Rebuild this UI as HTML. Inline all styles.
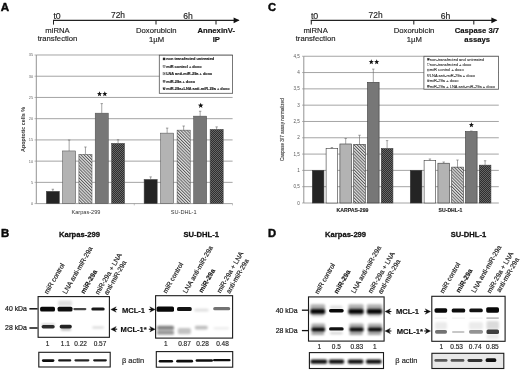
<!DOCTYPE html><html><head><meta charset="utf-8"><style>html,body{margin:0;padding:0;background:#fff;overflow:hidden}svg{display:block;filter:grayscale(1)}</style></head><body>
<svg width="520" height="372" viewBox="0 0 520 372" font-family="'Liberation Sans', sans-serif">

<defs>
 <pattern id="hatch" patternUnits="userSpaceOnUse" width="2.2" height="2.2" patternTransform="rotate(-45)">
   <rect width="2.2" height="2.2" fill="#e2e2e2"/>
   <rect width="0.95" height="2.2" fill="#5a5a5a"/>
 </pattern>
 <pattern id="check" patternUnits="userSpaceOnUse" width="2" height="2">
   <rect width="2" height="2" fill="#2e2e2e"/>
   <rect width="1" height="1" fill="#666"/>
   <rect x="1" y="1" width="1" height="1" fill="#666"/>
 </pattern>
 <filter id="b1" x="-50%" y="-100%" width="200%" height="300%"><feGaussianBlur stdDeviation="0.8"/></filter>
 <filter id="b2" x="-50%" y="-100%" width="200%" height="300%"><feGaussianBlur stdDeviation="1.3"/></filter>
 <filter id="b05" x="-50%" y="-100%" width="200%" height="300%"><feGaussianBlur stdDeviation="0.5"/></filter>
</defs>

<rect width="520" height="372" fill="#fff"/>
<text x="0.75" y="10.8" font-size="11.6" font-weight="bold" text-anchor="start" fill="#0a0a0a" stroke="#0a0a0a" stroke-width="0.45" >A</text>
<line x1="53.0" y1="20.3" x2="238.6" y2="20.3" stroke="#222" stroke-width="1.15"/>
<polygon points="233.6,17.4 239.6,20.3 233.6,23.2" fill="#111"/>
<line x1="53.5" y1="20.3" x2="53.5" y2="24.6" stroke="#222" stroke-width="1.05"/>
<line x1="156" y1="20.3" x2="156" y2="24.6" stroke="#222" stroke-width="1.05"/>
<line x1="216" y1="20.3" x2="216" y2="24.6" stroke="#222" stroke-width="1.05"/>
<text x="57.1" y="18.9" font-size="8.8" text-anchor="middle" fill="#222" stroke="#222" stroke-width="0.15" >t0</text>
<text x="118" y="18.3" font-size="8.4" text-anchor="middle" fill="#222" stroke="#222" stroke-width="0.15" >72h</text>
<text x="188.1" y="18.8" font-size="8.6" text-anchor="middle" fill="#222" stroke="#222" stroke-width="0.15" >6h</text>
<text x="57.5" y="32.6" font-size="7.7" text-anchor="middle" fill="#222" stroke="#222" stroke-width="0.15" >miRNA</text>
<text x="57.5" y="41.3" font-size="7.7" text-anchor="middle" fill="#222" stroke="#222" stroke-width="0.15" >transfection</text>
<text x="156.3" y="33.2" font-size="7.7" text-anchor="middle" fill="#222" stroke="#222" stroke-width="0.15" >Doxorubicin</text>
<text x="156.5" y="42.2" font-size="7.7" text-anchor="middle" fill="#222" stroke="#222" stroke-width="0.15" >1µM</text>
<text x="216.2" y="33.2" font-size="7.7" font-weight="bold" text-anchor="middle" fill="#111" stroke="#111" stroke-width="0.15" >AnnexinV-</text>
<text x="216.3" y="42.2" font-size="7.7" font-weight="bold" text-anchor="middle" fill="#111" stroke="#111" stroke-width="0.15" >IP</text>
<line x1="36.3" y1="203.60" x2="232.6" y2="203.60" stroke="#9a9a9a" stroke-width="0.9"/>
<line x1="34.5" y1="203.60" x2="36.3" y2="203.60" stroke="#888" stroke-width="0.6"/>
<text x="33.2" y="205.0" font-size="3.9" text-anchor="end" fill="#666" >0</text>
<line x1="36.3" y1="182.37" x2="232.6" y2="182.37" stroke="#9a9a9a" stroke-width="0.9"/>
<line x1="34.5" y1="182.37" x2="36.3" y2="182.37" stroke="#888" stroke-width="0.6"/>
<text x="33.2" y="183.77" font-size="3.9" text-anchor="end" fill="#666" >5</text>
<line x1="36.3" y1="161.14" x2="232.6" y2="161.14" stroke="#9a9a9a" stroke-width="0.9"/>
<line x1="34.5" y1="161.14" x2="36.3" y2="161.14" stroke="#888" stroke-width="0.6"/>
<text x="33.2" y="162.54" font-size="3.9" text-anchor="end" fill="#666" >10</text>
<line x1="36.3" y1="139.91" x2="232.6" y2="139.91" stroke="#9a9a9a" stroke-width="0.9"/>
<line x1="34.5" y1="139.91" x2="36.3" y2="139.91" stroke="#888" stroke-width="0.6"/>
<text x="33.2" y="141.31" font-size="3.9" text-anchor="end" fill="#666" >15</text>
<line x1="36.3" y1="118.68" x2="232.6" y2="118.68" stroke="#9a9a9a" stroke-width="0.9"/>
<line x1="34.5" y1="118.68" x2="36.3" y2="118.68" stroke="#888" stroke-width="0.6"/>
<text x="33.2" y="120.07999999999998" font-size="3.9" text-anchor="end" fill="#666" >20</text>
<line x1="36.3" y1="97.45" x2="232.6" y2="97.45" stroke="#9a9a9a" stroke-width="0.9"/>
<line x1="34.5" y1="97.45" x2="36.3" y2="97.45" stroke="#888" stroke-width="0.6"/>
<text x="33.2" y="98.85" font-size="3.9" text-anchor="end" fill="#666" >25</text>
<line x1="36.3" y1="76.22" x2="232.6" y2="76.22" stroke="#9a9a9a" stroke-width="0.9"/>
<line x1="34.5" y1="76.22" x2="36.3" y2="76.22" stroke="#888" stroke-width="0.6"/>
<text x="33.2" y="77.61999999999999" font-size="3.9" text-anchor="end" fill="#666" >30</text>
<line x1="36.3" y1="54.99" x2="232.6" y2="54.99" stroke="#9a9a9a" stroke-width="0.9"/>
<line x1="34.5" y1="54.99" x2="36.3" y2="54.99" stroke="#888" stroke-width="0.6"/>
<text x="33.2" y="56.38999999999998" font-size="3.9" text-anchor="end" fill="#666" >35</text>
<line x1="36.3" y1="55" x2="36.3" y2="203.6" stroke="#888" stroke-width="0.9"/>
<line x1="134.3" y1="203.6" x2="134.3" y2="205.4" stroke="#888" stroke-width="0.5"/>
<line x1="232.5" y1="203.6" x2="232.5" y2="205.4" stroke="#888" stroke-width="0.5"/>
<rect x="46.30" y="191.29" width="13.10" height="12.31" fill="#242424" stroke="#4a4a4a" stroke-width="0.5"/>
<line x1="52.85" y1="189.25" x2="52.85" y2="191.29" stroke="#666" stroke-width="0.6"/>
<line x1="51.65" y1="189.25" x2="54.05" y2="189.25" stroke="#666" stroke-width="0.6"/>
<rect x="62.60" y="150.95" width="13.10" height="52.65" fill="#b3b3b3" stroke="#4a4a4a" stroke-width="0.5"/>
<line x1="69.15" y1="140.00" x2="69.15" y2="150.95" stroke="#666" stroke-width="0.6"/>
<line x1="67.95" y1="140.00" x2="70.35" y2="140.00" stroke="#666" stroke-width="0.6"/>
<rect x="78.90" y="154.35" width="13.10" height="49.25" fill="url(#hatch)" stroke="#4a4a4a" stroke-width="0.5"/>
<line x1="85.45" y1="147.00" x2="85.45" y2="154.35" stroke="#666" stroke-width="0.6"/>
<line x1="84.25" y1="147.00" x2="86.65" y2="147.00" stroke="#666" stroke-width="0.6"/>
<rect x="95.20" y="113.16" width="13.10" height="90.44" fill="#777777" stroke="#4a4a4a" stroke-width="0.5"/>
<line x1="101.75" y1="103.60" x2="101.75" y2="113.16" stroke="#666" stroke-width="0.6"/>
<line x1="100.55" y1="103.60" x2="102.95" y2="103.60" stroke="#666" stroke-width="0.6"/>
<rect x="111.50" y="143.31" width="13.10" height="60.29" fill="url(#check)" stroke="#4a4a4a" stroke-width="0.5"/>
<line x1="118.05" y1="139.75" x2="118.05" y2="143.31" stroke="#666" stroke-width="0.6"/>
<line x1="116.85" y1="139.75" x2="119.25" y2="139.75" stroke="#666" stroke-width="0.6"/>
<rect x="144.10" y="179.40" width="13.10" height="24.20" fill="#242424" stroke="#4a4a4a" stroke-width="0.5"/>
<line x1="150.65" y1="176.90" x2="150.65" y2="179.40" stroke="#666" stroke-width="0.6"/>
<line x1="149.45" y1="176.90" x2="151.85" y2="176.90" stroke="#666" stroke-width="0.6"/>
<rect x="160.60" y="133.12" width="13.10" height="70.48" fill="#b3b3b3" stroke="#4a4a4a" stroke-width="0.5"/>
<line x1="167.15" y1="128.10" x2="167.15" y2="133.12" stroke="#666" stroke-width="0.6"/>
<line x1="165.95" y1="128.10" x2="168.35" y2="128.10" stroke="#666" stroke-width="0.6"/>
<rect x="177.10" y="130.14" width="13.10" height="73.46" fill="url(#hatch)" stroke="#4a4a4a" stroke-width="0.5"/>
<line x1="183.65" y1="126.00" x2="183.65" y2="130.14" stroke="#666" stroke-width="0.6"/>
<line x1="182.45" y1="126.00" x2="184.85" y2="126.00" stroke="#666" stroke-width="0.6"/>
<rect x="193.60" y="116.13" width="13.10" height="87.47" fill="#777777" stroke="#4a4a4a" stroke-width="0.5"/>
<line x1="200.15" y1="111.25" x2="200.15" y2="116.13" stroke="#666" stroke-width="0.6"/>
<line x1="198.95" y1="111.25" x2="201.35" y2="111.25" stroke="#666" stroke-width="0.6"/>
<rect x="210.10" y="129.29" width="13.10" height="74.31" fill="url(#check)" stroke="#4a4a4a" stroke-width="0.5"/>
<line x1="216.65" y1="126.90" x2="216.65" y2="129.29" stroke="#666" stroke-width="0.6"/>
<line x1="215.45" y1="126.90" x2="217.85" y2="126.90" stroke="#666" stroke-width="0.6"/>
<polygon points="99.50,91.25 100.18,93.07 102.12,93.15 100.60,94.36 101.12,96.22 99.50,95.16 97.88,96.22 98.40,94.36 96.88,93.15 98.82,93.07" fill="#111"/>
<polygon points="104.80,91.25 105.48,93.07 107.42,93.15 105.90,94.36 106.42,96.22 104.80,95.16 103.18,96.22 103.70,94.36 102.18,93.15 104.12,93.07" fill="#111"/>
<polygon points="200.70,102.70 201.42,104.61 203.46,104.70 201.86,105.98 202.40,107.95 200.70,106.82 199.00,107.95 199.54,105.98 197.94,104.70 199.98,104.61" fill="#111"/>
<rect x="159.3" y="55.2" width="73.3" height="38.1" fill="#fff" stroke="#555" stroke-width="0.8"/>
<rect x="163.00" y="57.90" width="2.10" height="2.10" fill="#242424" stroke="#333" stroke-width="0.3"/>
<text x="166.2" y="60.35" font-size="3.9" font-weight="bold" text-anchor="start" fill="#1a1a1a" stroke="#1a1a1a" stroke-width="0.14" >non transfected untreated</text>
<rect x="163.00" y="65.35" width="2.10" height="2.10" fill="#b3b3b3" stroke="#333" stroke-width="0.3"/>
<text x="166.2" y="67.8" font-size="3.9" font-weight="bold" text-anchor="start" fill="#1a1a1a" stroke="#1a1a1a" stroke-width="0.14" >miR control + doxo</text>
<rect x="163.00" y="72.80" width="2.10" height="2.10" fill="url(#hatch)" stroke="#333" stroke-width="0.3"/>
<text x="166.2" y="75.25" font-size="3.9" font-weight="bold" text-anchor="start" fill="#1a1a1a" stroke="#1a1a1a" stroke-width="0.14" >LNA anti-miR-29a + doxo</text>
<rect x="163.00" y="80.25" width="2.10" height="2.10" fill="#777777" stroke="#333" stroke-width="0.3"/>
<text x="166.2" y="82.69999999999999" font-size="3.9" font-weight="bold" text-anchor="start" fill="#1a1a1a" stroke="#1a1a1a" stroke-width="0.14" >miR-29a + doxo</text>
<rect x="163.00" y="87.70" width="2.10" height="2.10" fill="url(#check)" stroke="#333" stroke-width="0.3"/>
<text x="166.2" y="90.14999999999999" font-size="3.9" font-weight="bold" text-anchor="start" fill="#1a1a1a" stroke="#1a1a1a" stroke-width="0.14" >miR-29a+LNA anti-miR-29a + doxo</text>
<text x="86.0" y="214.2" font-size="5.6" text-anchor="middle" fill="#333" >Karpas-299</text>
<text x="183.7" y="214.2" font-size="5.6" text-anchor="middle" fill="#333" >SU-DHL-1</text>
<text transform="translate(25.3,129.5) rotate(-90)" font-size="5.4" font-weight="bold" text-anchor="middle" fill="#333">Apoptotic cells %</text>
<text x="267.9" y="10.9" font-size="11.2" font-weight="bold" text-anchor="start" fill="#0a0a0a" stroke="#0a0a0a" stroke-width="0.45" >C</text>
<line x1="310.8" y1="20.3" x2="496.4" y2="20.3" stroke="#222" stroke-width="1.15"/>
<polygon points="491.4,17.4 497.4,20.3 491.4,23.2" fill="#111"/>
<line x1="311.3" y1="20.3" x2="311.3" y2="24.6" stroke="#222" stroke-width="1.05"/>
<line x1="413.8" y1="20.3" x2="413.8" y2="24.6" stroke="#222" stroke-width="1.05"/>
<line x1="473.8" y1="20.3" x2="473.8" y2="24.6" stroke="#222" stroke-width="1.05"/>
<text x="314.6" y="18.9" font-size="8.8" text-anchor="middle" fill="#222" stroke="#222" stroke-width="0.15" >t0</text>
<text x="375.6" y="18.3" font-size="8.4" text-anchor="middle" fill="#222" stroke="#222" stroke-width="0.15" >72h</text>
<text x="445.6" y="18.8" font-size="8.6" text-anchor="middle" fill="#222" stroke="#222" stroke-width="0.15" >6h</text>
<text x="315.6" y="32.6" font-size="7.7" text-anchor="middle" fill="#222" stroke="#222" stroke-width="0.15" >miRNA</text>
<text x="315.6" y="41.3" font-size="7.7" text-anchor="middle" fill="#222" stroke="#222" stroke-width="0.15" >transfection</text>
<text x="414.1" y="33.2" font-size="7.7" text-anchor="middle" fill="#222" stroke="#222" stroke-width="0.15" >Doxorubicin</text>
<text x="414.4" y="42.2" font-size="7.7" text-anchor="middle" fill="#222" stroke="#222" stroke-width="0.15" >1µM</text>
<text x="476.9" y="33.2" font-size="7.7" font-weight="bold" text-anchor="middle" fill="#111" stroke="#111" stroke-width="0.15" >Caspase 3/7</text>
<text x="477.2" y="42.2" font-size="7.7" font-weight="bold" text-anchor="middle" fill="#111" stroke="#111" stroke-width="0.15" >assays</text>
<line x1="303.8" y1="203.00" x2="498.8" y2="203.00" stroke="#9a9a9a" stroke-width="0.9"/>
<line x1="302.0" y1="203.00" x2="303.8" y2="203.00" stroke="#888" stroke-width="0.6"/>
<text x="299.8" y="204.6" font-size="4.6" text-anchor="end" fill="#555" >0</text>
<line x1="303.8" y1="186.69" x2="498.8" y2="186.69" stroke="#9a9a9a" stroke-width="0.9"/>
<line x1="302.0" y1="186.69" x2="303.8" y2="186.69" stroke="#888" stroke-width="0.6"/>
<text x="299.8" y="188.295" font-size="4.6" text-anchor="end" fill="#555" >0,5</text>
<line x1="303.8" y1="170.39" x2="498.8" y2="170.39" stroke="#9a9a9a" stroke-width="0.9"/>
<line x1="302.0" y1="170.39" x2="303.8" y2="170.39" stroke="#888" stroke-width="0.6"/>
<text x="299.8" y="171.98999999999998" font-size="4.6" text-anchor="end" fill="#555" >1</text>
<line x1="303.8" y1="154.09" x2="498.8" y2="154.09" stroke="#9a9a9a" stroke-width="0.9"/>
<line x1="302.0" y1="154.09" x2="303.8" y2="154.09" stroke="#888" stroke-width="0.6"/>
<text x="299.8" y="155.685" font-size="4.6" text-anchor="end" fill="#555" >1,5</text>
<line x1="303.8" y1="137.78" x2="498.8" y2="137.78" stroke="#9a9a9a" stroke-width="0.9"/>
<line x1="302.0" y1="137.78" x2="303.8" y2="137.78" stroke="#888" stroke-width="0.6"/>
<text x="299.8" y="139.38" font-size="4.6" text-anchor="end" fill="#555" >2</text>
<line x1="303.8" y1="121.47" x2="498.8" y2="121.47" stroke="#9a9a9a" stroke-width="0.9"/>
<line x1="302.0" y1="121.47" x2="303.8" y2="121.47" stroke="#888" stroke-width="0.6"/>
<text x="299.8" y="123.07499999999999" font-size="4.6" text-anchor="end" fill="#555" >2,5</text>
<line x1="303.8" y1="105.17" x2="498.8" y2="105.17" stroke="#9a9a9a" stroke-width="0.9"/>
<line x1="302.0" y1="105.17" x2="303.8" y2="105.17" stroke="#888" stroke-width="0.6"/>
<text x="299.8" y="106.77" font-size="4.6" text-anchor="end" fill="#555" >3</text>
<line x1="303.8" y1="88.87" x2="498.8" y2="88.87" stroke="#9a9a9a" stroke-width="0.9"/>
<line x1="302.0" y1="88.87" x2="303.8" y2="88.87" stroke="#888" stroke-width="0.6"/>
<text x="299.8" y="90.465" font-size="4.6" text-anchor="end" fill="#555" >3,5</text>
<line x1="303.8" y1="72.56" x2="498.8" y2="72.56" stroke="#9a9a9a" stroke-width="0.9"/>
<line x1="302.0" y1="72.56" x2="303.8" y2="72.56" stroke="#888" stroke-width="0.6"/>
<text x="299.8" y="74.16" font-size="4.6" text-anchor="end" fill="#555" >4</text>
<line x1="303.8" y1="56.25" x2="498.8" y2="56.25" stroke="#9a9a9a" stroke-width="0.9"/>
<line x1="302.0" y1="56.25" x2="303.8" y2="56.25" stroke="#888" stroke-width="0.6"/>
<text x="299.8" y="57.855" font-size="4.6" text-anchor="end" fill="#555" >4,5</text>
<line x1="303.8" y1="56.25" x2="303.8" y2="203.0" stroke="#888" stroke-width="0.9"/>
<rect x="312.30" y="170.39" width="11.60" height="32.61" fill="#242424" stroke="#3a3a3a" stroke-width="0.6"/>
<rect x="326.10" y="148.54" width="11.60" height="54.46" fill="#ffffff" stroke="#3a3a3a" stroke-width="0.6"/>
<line x1="331.90" y1="147.50" x2="331.90" y2="148.54" stroke="#666" stroke-width="0.6"/>
<line x1="330.70" y1="147.50" x2="333.10" y2="147.50" stroke="#666" stroke-width="0.6"/>
<rect x="339.90" y="143.98" width="11.60" height="59.02" fill="#b3b3b3" stroke="#3a3a3a" stroke-width="0.6"/>
<line x1="345.70" y1="138.50" x2="345.70" y2="143.98" stroke="#666" stroke-width="0.6"/>
<line x1="344.50" y1="138.50" x2="346.90" y2="138.50" stroke="#666" stroke-width="0.6"/>
<rect x="353.70" y="144.30" width="11.60" height="58.70" fill="url(#hatch)" stroke="#3a3a3a" stroke-width="0.6"/>
<line x1="359.50" y1="135.25" x2="359.50" y2="144.30" stroke="#666" stroke-width="0.6"/>
<line x1="358.30" y1="135.25" x2="360.70" y2="135.25" stroke="#666" stroke-width="0.6"/>
<rect x="367.50" y="82.34" width="11.60" height="120.66" fill="#777777" stroke="#3a3a3a" stroke-width="0.6"/>
<line x1="373.30" y1="69.10" x2="373.30" y2="82.34" stroke="#666" stroke-width="0.6"/>
<line x1="372.10" y1="69.10" x2="374.50" y2="69.10" stroke="#666" stroke-width="0.6"/>
<rect x="381.30" y="148.54" width="11.60" height="54.46" fill="url(#check)" stroke="#3a3a3a" stroke-width="0.6"/>
<line x1="387.10" y1="140.60" x2="387.10" y2="148.54" stroke="#666" stroke-width="0.6"/>
<line x1="385.90" y1="140.60" x2="388.30" y2="140.60" stroke="#666" stroke-width="0.6"/>
<rect x="410.30" y="170.39" width="11.60" height="32.61" fill="#242424" stroke="#3a3a3a" stroke-width="0.6"/>
<rect x="424.10" y="160.61" width="11.60" height="42.39" fill="#ffffff" stroke="#3a3a3a" stroke-width="0.6"/>
<line x1="429.90" y1="159.00" x2="429.90" y2="160.61" stroke="#666" stroke-width="0.6"/>
<line x1="428.70" y1="159.00" x2="431.10" y2="159.00" stroke="#666" stroke-width="0.6"/>
<rect x="437.90" y="163.22" width="11.60" height="39.78" fill="#b3b3b3" stroke="#3a3a3a" stroke-width="0.6"/>
<line x1="443.70" y1="162.00" x2="443.70" y2="163.22" stroke="#666" stroke-width="0.6"/>
<line x1="442.50" y1="162.00" x2="444.90" y2="162.00" stroke="#666" stroke-width="0.6"/>
<rect x="451.70" y="167.13" width="11.60" height="35.87" fill="url(#hatch)" stroke="#3a3a3a" stroke-width="0.6"/>
<line x1="457.50" y1="160.00" x2="457.50" y2="167.13" stroke="#666" stroke-width="0.6"/>
<line x1="456.30" y1="160.00" x2="458.70" y2="160.00" stroke="#666" stroke-width="0.6"/>
<rect x="465.50" y="131.58" width="11.60" height="71.42" fill="#777777" stroke="#3a3a3a" stroke-width="0.6"/>
<line x1="471.30" y1="131.00" x2="471.30" y2="131.58" stroke="#666" stroke-width="0.6"/>
<line x1="470.10" y1="131.00" x2="472.50" y2="131.00" stroke="#666" stroke-width="0.6"/>
<rect x="479.30" y="165.17" width="11.60" height="37.83" fill="url(#check)" stroke="#3a3a3a" stroke-width="0.6"/>
<line x1="485.10" y1="160.75" x2="485.10" y2="165.17" stroke="#666" stroke-width="0.6"/>
<line x1="483.90" y1="160.75" x2="486.30" y2="160.75" stroke="#666" stroke-width="0.6"/>
<polygon points="371.30,59.30 371.97,61.08 373.87,61.17 372.38,62.35 372.89,64.18 371.30,63.13 369.71,64.18 370.22,62.35 368.73,61.17 370.63,61.08" fill="#111"/>
<polygon points="376.70,59.30 377.37,61.08 379.27,61.17 377.78,62.35 378.29,64.18 376.70,63.13 375.11,64.18 375.62,62.35 374.13,61.17 376.03,61.08" fill="#111"/>
<polygon points="471.40,122.30 472.07,124.08 473.97,124.17 472.48,125.35 472.99,127.18 471.40,126.13 469.81,127.18 470.32,125.35 468.83,124.17 470.73,124.08" fill="#111"/>
<rect x="423.9" y="56.3" width="74.6" height="32.9" fill="#fff" stroke="#555" stroke-width="0.8"/>
<rect x="427.40" y="58.30" width="1.90" height="1.90" fill="#242424" stroke="#333" stroke-width="0.3"/>
<text x="429.8" y="60.599999999999994" font-size="4.05" text-anchor="start" fill="#222" stroke="#222" stroke-width="0.07" >non-transfected and untreated</text>
<rect x="427.40" y="63.70" width="1.90" height="1.90" fill="#ffffff" stroke="#333" stroke-width="0.3"/>
<text x="429.8" y="66.0" font-size="4.05" text-anchor="start" fill="#222" stroke="#222" stroke-width="0.07" >non-transfected + doxo</text>
<rect x="427.40" y="69.10" width="1.90" height="1.90" fill="#b3b3b3" stroke="#333" stroke-width="0.3"/>
<text x="429.8" y="71.39999999999999" font-size="4.05" text-anchor="start" fill="#222" stroke="#222" stroke-width="0.07" >miR control + doxo</text>
<rect x="427.40" y="74.50" width="1.90" height="1.90" fill="url(#hatch)" stroke="#333" stroke-width="0.3"/>
<text x="429.8" y="76.8" font-size="4.05" text-anchor="start" fill="#222" stroke="#222" stroke-width="0.07" >LNA anti-miR-29a + doxo</text>
<rect x="427.40" y="79.90" width="1.90" height="1.90" fill="#777777" stroke="#333" stroke-width="0.3"/>
<text x="429.8" y="82.2" font-size="4.05" text-anchor="start" fill="#222" stroke="#222" stroke-width="0.07" >miR-29a + doxo</text>
<rect x="427.40" y="85.30" width="1.90" height="1.90" fill="url(#check)" stroke="#333" stroke-width="0.3"/>
<text x="429.8" y="87.6" font-size="4.05" text-anchor="start" fill="#222" stroke="#222" stroke-width="0.07" >miR-29a + LNA anti-miR-29a + doxo</text>
<text x="352.5" y="211.7" font-size="5.2" font-weight="bold" text-anchor="middle" fill="#222" stroke="#222" stroke-width="0.12" >KARPAS-299</text>
<text x="450.5" y="211.7" font-size="5.1" font-weight="bold" text-anchor="middle" fill="#222" stroke="#222" stroke-width="0.12" >SU-DHL-1</text>
<text transform="translate(283.5,129.7) rotate(-90)" font-size="4.6" text-anchor="middle" fill="#333" stroke="#333" stroke-width="0.12">Caspase 3/7 assay normalized</text>
<text x="0.9" y="236.8" font-size="11.4" font-weight="bold" text-anchor="start" fill="#0a0a0a" stroke="#0a0a0a" stroke-width="0.45" >B</text>
<text x="79.4" y="236.6" font-size="7.6" font-weight="bold" text-anchor="middle" fill="#111" stroke="#111" stroke-width="0.28" >Karpas-299</text>
<text x="201.2" y="236.8" font-size="7.6" font-weight="bold" text-anchor="middle" fill="#111" stroke="#111" stroke-width="0.28" >SU-DHL-1</text>
<text transform="translate(47.80,294.50) rotate(-60)" font-size="6.75" fill="#222" stroke="#222" stroke-width="0.17">miR control</text>
<text transform="translate(66.30,294.50) rotate(-60)" font-size="6.75" fill="#222" stroke="#222" stroke-width="0.17">LNA anti-miR-29a</text>
<text transform="translate(84.30,294.20) rotate(-60)" font-size="6.75" font-weight="bold" fill="#111" stroke="#111" stroke-width="0.14">miR-29a</text>
<text transform="translate(98.80,295.00) rotate(-60)" font-size="6.75" fill="#222" stroke="#222" stroke-width="0.17">miR-29a + LNA</text>
<text transform="translate(107.40,295.60) rotate(-60)" font-size="6.75" fill="#222" stroke="#222" stroke-width="0.17">anti-miR-29a</text>
<text transform="translate(166.40,293.70) rotate(-60)" font-size="6.75" fill="#222" stroke="#222" stroke-width="0.17">miR control</text>
<text transform="translate(186.60,293.70) rotate(-60)" font-size="6.75" fill="#222" stroke="#222" stroke-width="0.17">LNA anti-miR-29a</text>
<text transform="translate(202.20,293.20) rotate(-60)" font-size="6.75" font-weight="bold" fill="#111" stroke="#111" stroke-width="0.14">miR-29a</text>
<text transform="translate(220.40,293.40) rotate(-60)" font-size="6.75" fill="#222" stroke="#222" stroke-width="0.17">miR-29a + LNA</text>
<text transform="translate(229.80,293.90) rotate(-60)" font-size="6.75" fill="#222" stroke="#222" stroke-width="0.17">anti-miR-29a</text>
<text x="26.9" y="311.3" font-size="6.9" text-anchor="end" fill="#222" stroke="#222" stroke-width="0.22" >40 kDa</text>
<text x="26.9" y="330.2" font-size="6.9" text-anchor="end" fill="#222" stroke="#222" stroke-width="0.22" >28 kDa</text>
<line x1="29.4" y1="308.8" x2="37.6" y2="308.8" stroke="#111" stroke-width="1.5"/>
<line x1="29.4" y1="328.0" x2="37.6" y2="328.0" stroke="#111" stroke-width="1.5"/>
<rect x="58.00" y="300.50" width="14.00" height="5.50" rx="1.60" fill="#000" fill-opacity="0.12" filter="url(#b2)"/>
<rect x="40.10" y="306.70" width="14.90" height="4.90" rx="1.60" fill="#000" fill-opacity="0.96" filter="url(#b05)"/>
<rect x="57.60" y="306.70" width="14.90" height="4.90" rx="1.60" fill="#000" fill-opacity="0.94" filter="url(#b05)"/>
<rect x="73.30" y="307.90" width="13.10" height="2.30" rx="1.15" fill="#000" fill-opacity="0.72" filter="url(#b05)"/>
<rect x="91.30" y="307.40" width="13.40" height="3.10" rx="1.55" fill="#000" fill-opacity="0.9" filter="url(#b05)"/>
<rect x="41.60" y="323.80" width="13.10" height="1.80" rx="0.90" fill="#000" fill-opacity="0.25" filter="url(#b1)"/>
<rect x="41.60" y="325.00" width="13.10" height="3.40" rx="1.60" fill="#000" fill-opacity="0.82" filter="url(#b05)"/>
<rect x="59.70" y="324.70" width="12.10" height="3.70" rx="1.60" fill="#000" fill-opacity="0.86" filter="url(#b05)"/>
<rect x="61.00" y="328.20" width="10.00" height="2.40" rx="1.20" fill="#000" fill-opacity="0.3" filter="url(#b1)"/>
<rect x="92.30" y="326.40" width="11.70" height="2.00" rx="1.00" fill="#000" fill-opacity="0.16" filter="url(#b1)"/>
<rect x="38.1" y="296.6" width="71.3" height="40.7" fill="none" stroke="#1a1a1a" stroke-width="1.1"/>
<path d="M110.80,309.50 L116.20,306.80 L114.70,309.50 L116.20,312.20 Z" fill="#111" stroke="#111" stroke-width="0.3" stroke-linejoin="round"/>
<line x1="113.30" y1="309.50" x2="117.20" y2="309.50" stroke="#111" stroke-width="1.1"/>
<text x="133.5" y="313.0" font-size="7.6" font-weight="bold" text-anchor="middle" fill="#111" stroke="#111" stroke-width="0.15" >MCL-1</text>
<path d="M155.20,309.50 L149.80,306.80 L151.30,309.50 L149.80,312.20 Z" fill="#111" stroke="#111" stroke-width="0.3" stroke-linejoin="round"/>
<line x1="152.70" y1="309.50" x2="148.80" y2="309.50" stroke="#111" stroke-width="1.1"/>
<path d="M110.80,329.20 L116.20,326.50 L114.70,329.20 L116.20,331.90 Z" fill="#111" stroke="#111" stroke-width="0.3" stroke-linejoin="round"/>
<line x1="113.30" y1="329.20" x2="117.20" y2="329.20" stroke="#111" stroke-width="1.1"/>
<text x="133.7" y="332.2" font-size="7.6" font-weight="bold" text-anchor="middle" fill="#111" stroke="#111" stroke-width="0.15" >MCL-1*</text>
<path d="M155.20,329.20 L149.80,326.50 L151.30,329.20 L149.80,331.90 Z" fill="#111" stroke="#111" stroke-width="0.3" stroke-linejoin="round"/>
<line x1="152.70" y1="329.20" x2="148.80" y2="329.20" stroke="#111" stroke-width="1.1"/>
<text x="47.6" y="346.0" font-size="6.5" text-anchor="middle" fill="#222" stroke="#222" stroke-width="0.15" >1</text>
<text x="65.3" y="346.0" font-size="6.5" text-anchor="middle" fill="#222" stroke="#222" stroke-width="0.15" >1.1</text>
<text x="80.6" y="346.0" font-size="6.5" text-anchor="middle" fill="#222" stroke="#222" stroke-width="0.15" >0.22</text>
<text x="100.0" y="346.0" font-size="6.5" text-anchor="middle" fill="#222" stroke="#222" stroke-width="0.15" >0.57</text>
<rect x="41.90" y="359.20" width="12.50" height="2.70" rx="1.35" fill="#000" fill-opacity="0.95" filter="url(#b05)"/>
<rect x="58.10" y="359.30" width="13.20" height="2.30" rx="1.15" fill="#000" fill-opacity="0.9" filter="url(#b05)"/>
<rect x="74.40" y="359.30" width="15.00" height="2.10" rx="1.05" fill="#000" fill-opacity="0.85" filter="url(#b05)"/>
<rect x="93.10" y="359.20" width="13.80" height="2.30" rx="1.15" fill="#000" fill-opacity="0.9" filter="url(#b05)"/>
<rect x="38.8" y="352.3" width="71.4" height="14.7" fill="none" stroke="#1a1a1a" stroke-width="1.1"/>
<text x="133.0" y="363.1" font-size="7.5" text-anchor="middle" fill="#222" stroke="#222" stroke-width="0.15" >β actin</text>
<rect x="156.60" y="306.50" width="17.40" height="5.30" rx="1.60" fill="#000" fill-opacity="0.97" filter="url(#b05)"/>
<rect x="177.00" y="307.00" width="14.70" height="4.00" rx="1.60" fill="#000" fill-opacity="0.92" filter="url(#b05)"/>
<rect x="194.30" y="308.80" width="14.30" height="2.80" rx="1.40" fill="#000" fill-opacity="0.13" filter="url(#b1)"/>
<rect x="213.20" y="307.00" width="17.00" height="3.30" rx="1.60" fill="#000" fill-opacity="0.55" filter="url(#b05)"/>
<rect x="157.00" y="325.80" width="17.00" height="4.00" rx="1.60" fill="#000" fill-opacity="0.5" filter="url(#b1)"/>
<rect x="157.00" y="330.20" width="17.00" height="4.60" rx="1.60" fill="#000" fill-opacity="0.4" filter="url(#b1)"/>
<rect x="177.80" y="328.00" width="13.10" height="6.20" rx="1.60" fill="#000" fill-opacity="0.24" filter="url(#b1)"/>
<rect x="194.80" y="325.80" width="13.00" height="3.60" rx="1.60" fill="#000" fill-opacity="0.26" filter="url(#b1)"/>
<rect x="213.50" y="327.00" width="15.50" height="2.50" rx="1.25" fill="#000" fill-opacity="0.07" filter="url(#b1)"/>
<rect x="155.6" y="295.7" width="77.0" height="42.4" fill="none" stroke="#1a1a1a" stroke-width="1.1"/>
<text x="165.8" y="345.7" font-size="6.5" text-anchor="middle" fill="#222" stroke="#222" stroke-width="0.15" >1</text>
<text x="184.5" y="345.7" font-size="6.5" text-anchor="middle" fill="#222" stroke="#222" stroke-width="0.15" >0.87</text>
<text x="202.5" y="345.7" font-size="6.5" text-anchor="middle" fill="#222" stroke="#222" stroke-width="0.15" >0.28</text>
<text x="222.5" y="345.7" font-size="6.5" text-anchor="middle" fill="#222" stroke="#222" stroke-width="0.15" >0.48</text>
<rect x="158.70" y="360.00" width="14.40" height="2.60" rx="1.30" fill="#000" fill-opacity="0.95" filter="url(#b05)"/>
<rect x="176.20" y="359.80" width="16.90" height="2.80" rx="1.40" fill="#000" fill-opacity="0.95" filter="url(#b05)"/>
<rect x="195.60" y="359.30" width="17.40" height="2.50" rx="1.25" fill="#000" fill-opacity="0.95" filter="url(#b05)"/>
<rect x="213.00" y="359.00" width="17.60" height="2.30" rx="1.15" fill="#000" fill-opacity="0.95" filter="url(#b05)"/>
<rect x="156.3" y="351.6" width="76.4" height="15.6" fill="none" stroke="#1a1a1a" stroke-width="1.1"/>
<text x="268.1" y="236.8" font-size="11.2" font-weight="bold" text-anchor="start" fill="#0a0a0a" stroke="#0a0a0a" stroke-width="0.45" >D</text>
<text x="345.6" y="236.6" font-size="7.6" font-weight="bold" text-anchor="middle" fill="#111" stroke="#111" stroke-width="0.28" >Karpas-299</text>
<text x="468.5" y="236.8" font-size="7.6" font-weight="bold" text-anchor="middle" fill="#111" stroke="#111" stroke-width="0.28" >SU-DHL-1</text>
<text transform="translate(318.30,294.50) rotate(-60)" font-size="6.75" fill="#222" stroke="#222" stroke-width="0.17">miR control</text>
<text transform="translate(337.60,294.20) rotate(-60)" font-size="6.75" font-weight="bold" fill="#111" stroke="#111" stroke-width="0.14">miR-29a</text>
<text transform="translate(354.80,293.70) rotate(-60)" font-size="6.75" fill="#222" stroke="#222" stroke-width="0.17">LNA anti-miR-29a</text>
<text transform="translate(371.80,293.70) rotate(-60)" font-size="6.75" fill="#222" stroke="#222" stroke-width="0.17">miR-29a + LNA</text>
<text transform="translate(381.40,294.50) rotate(-60)" font-size="6.75" fill="#222" stroke="#222" stroke-width="0.17">anti-miR-29a</text>
<text transform="translate(443.40,293.70) rotate(-60)" font-size="6.75" fill="#222" stroke="#222" stroke-width="0.17">miR control</text>
<text transform="translate(459.60,293.20) rotate(-60)" font-size="6.75" font-weight="bold" fill="#111" stroke="#111" stroke-width="0.14">miR-29a</text>
<text transform="translate(475.00,293.20) rotate(-60)" font-size="6.75" fill="#222" stroke="#222" stroke-width="0.17">LNA anti-miR-29a</text>
<text transform="translate(490.40,293.70) rotate(-60)" font-size="6.75" fill="#222" stroke="#222" stroke-width="0.17">miR-29a + LNA</text>
<text transform="translate(500.00,292.80) rotate(-60)" font-size="6.75" fill="#222" stroke="#222" stroke-width="0.17">anti-miR-29a</text>
<text x="297.5" y="312.5" font-size="6.9" text-anchor="end" fill="#222" stroke="#222" stroke-width="0.22" >40 kDa</text>
<text x="297.5" y="332.8" font-size="6.9" text-anchor="end" fill="#222" stroke="#222" stroke-width="0.22" >28 kDa</text>
<line x1="301.9" y1="310.2" x2="308.5" y2="310.2" stroke="#111" stroke-width="1.3"/>
<line x1="301.9" y1="330.6" x2="308.5" y2="330.6" stroke="#111" stroke-width="1.3"/>
<rect x="310.30" y="304.30" width="14.90" height="4.90" rx="1.60" fill="#000" fill-opacity="0.3" filter="url(#b1)"/>
<rect x="310.30" y="308.80" width="14.90" height="5.20" rx="1.60" fill="#000" fill-opacity="0.97" filter="url(#b1)"/>
<rect x="311.30" y="313.50" width="12.90" height="3.00" rx="1.50" fill="#000" fill-opacity="0.22" filter="url(#b1)"/>
<rect x="311.30" y="323.60" width="13.90" height="4.00" rx="1.60" fill="#000" fill-opacity="0.32" filter="url(#b1)"/>
<rect x="311.30" y="327.20" width="13.90" height="4.50" rx="1.60" fill="#000" fill-opacity="0.95" filter="url(#b1)"/>
<rect x="311.30" y="332.40" width="12.90" height="2.40" rx="1.20" fill="#000" fill-opacity="0.45" filter="url(#b1)"/>
<rect x="329.00" y="308.90" width="14.70" height="3.50" rx="1.60" fill="#000" fill-opacity="0.97" filter="url(#b05)"/>
<rect x="330.00" y="305.50" width="12.70" height="3.50" rx="1.60" fill="#000" fill-opacity="0.12" filter="url(#b1)"/>
<rect x="329.00" y="327.30" width="14.70" height="3.20" rx="1.60" fill="#000" fill-opacity="0.93" filter="url(#b05)"/>
<rect x="330.00" y="332.30" width="12.70" height="2.00" rx="1.00" fill="#000" fill-opacity="0.2" filter="url(#b1)"/>
<rect x="348.30" y="304.30" width="15.40" height="4.90" rx="1.60" fill="#000" fill-opacity="0.3" filter="url(#b1)"/>
<rect x="348.30" y="308.80" width="15.40" height="5.20" rx="1.60" fill="#000" fill-opacity="0.97" filter="url(#b1)"/>
<rect x="349.30" y="313.50" width="13.40" height="3.00" rx="1.50" fill="#000" fill-opacity="0.22" filter="url(#b1)"/>
<rect x="349.30" y="323.60" width="14.40" height="4.00" rx="1.60" fill="#000" fill-opacity="0.32" filter="url(#b1)"/>
<rect x="349.30" y="327.20" width="14.40" height="4.50" rx="1.60" fill="#000" fill-opacity="0.95" filter="url(#b1)"/>
<rect x="349.30" y="332.40" width="13.40" height="2.40" rx="1.20" fill="#000" fill-opacity="0.45" filter="url(#b1)"/>
<rect x="366.80" y="304.30" width="15.40" height="4.90" rx="1.60" fill="#000" fill-opacity="0.3" filter="url(#b1)"/>
<rect x="366.80" y="308.80" width="15.40" height="5.20" rx="1.60" fill="#000" fill-opacity="0.97" filter="url(#b1)"/>
<rect x="367.80" y="313.50" width="13.40" height="3.00" rx="1.50" fill="#000" fill-opacity="0.22" filter="url(#b1)"/>
<rect x="367.80" y="323.60" width="14.40" height="4.00" rx="1.60" fill="#000" fill-opacity="0.32" filter="url(#b1)"/>
<rect x="367.80" y="327.20" width="14.40" height="4.50" rx="1.60" fill="#000" fill-opacity="0.95" filter="url(#b1)"/>
<rect x="367.80" y="332.40" width="13.40" height="2.40" rx="1.20" fill="#000" fill-opacity="0.45" filter="url(#b1)"/>
<rect x="308.5" y="296.9" width="75.6" height="44.2" fill="none" stroke="#1a1a1a" stroke-width="1.1"/>
<text x="319.2" y="348.8" font-size="6.5" text-anchor="middle" fill="#222" stroke="#222" stroke-width="0.15" >1</text>
<text x="336.3" y="348.8" font-size="6.5" text-anchor="middle" fill="#222" stroke="#222" stroke-width="0.15" >0.5</text>
<text x="356.9" y="348.8" font-size="6.5" text-anchor="middle" fill="#222" stroke="#222" stroke-width="0.15" >0.83</text>
<text x="374.9" y="348.8" font-size="6.5" text-anchor="middle" fill="#222" stroke="#222" stroke-width="0.15" >1</text>
<rect x="310.40" y="359.60" width="16.80" height="4.10" rx="1.60" fill="#000" fill-opacity="0.95" filter="url(#b1)"/>
<rect x="328.80" y="359.60" width="15.40" height="4.10" rx="1.60" fill="#000" fill-opacity="0.95" filter="url(#b1)"/>
<rect x="347.80" y="359.60" width="15.60" height="4.10" rx="1.60" fill="#000" fill-opacity="0.95" filter="url(#b1)"/>
<rect x="366.00" y="359.60" width="15.60" height="4.10" rx="1.60" fill="#000" fill-opacity="0.95" filter="url(#b1)"/>
<rect x="309.4" y="352.6" width="74.1" height="15.9" fill="none" stroke="#1a1a1a" stroke-width="1.1"/>
<text x="406.4" y="363.1" font-size="7.5" text-anchor="middle" fill="#222" stroke="#222" stroke-width="0.15" >β actin</text>
<path d="M385.00,311.50 L390.40,308.80 L388.90,311.50 L390.40,314.20 Z" fill="#111" stroke="#111" stroke-width="0.3" stroke-linejoin="round"/>
<line x1="387.50" y1="311.50" x2="391.40" y2="311.50" stroke="#111" stroke-width="1.1"/>
<text x="407.5" y="314.4" font-size="7.6" font-weight="bold" text-anchor="middle" fill="#111" stroke="#111" stroke-width="0.15" >MCL-1</text>
<path d="M430.60,311.50 L425.20,308.80 L426.70,311.50 L425.20,314.20 Z" fill="#111" stroke="#111" stroke-width="0.3" stroke-linejoin="round"/>
<line x1="428.10" y1="311.50" x2="424.20" y2="311.50" stroke="#111" stroke-width="1.1"/>
<path d="M385.00,331.00 L390.40,328.30 L388.90,331.00 L390.40,333.70 Z" fill="#111" stroke="#111" stroke-width="0.3" stroke-linejoin="round"/>
<line x1="387.50" y1="331.00" x2="391.40" y2="331.00" stroke="#111" stroke-width="1.1"/>
<text x="409.8" y="333.8" font-size="7.6" font-weight="bold" text-anchor="middle" fill="#111" stroke="#111" stroke-width="0.15" >MCL-1*</text>
<path d="M430.60,331.00 L425.20,328.30 L426.70,331.00 L425.20,333.70 Z" fill="#111" stroke="#111" stroke-width="0.3" stroke-linejoin="round"/>
<line x1="428.10" y1="331.00" x2="424.20" y2="331.00" stroke="#111" stroke-width="1.1"/>
<rect x="434.50" y="308.20" width="12.70" height="4.50" rx="1.60" fill="#000" fill-opacity="0.97" filter="url(#b05)"/>
<rect x="451.70" y="308.50" width="13.50" height="4.00" rx="1.60" fill="#000" fill-opacity="0.95" filter="url(#b05)"/>
<rect x="469.30" y="308.60" width="13.50" height="3.70" rx="1.60" fill="#000" fill-opacity="0.93" filter="url(#b05)"/>
<rect x="486.20" y="307.20" width="12.80" height="5.50" rx="1.60" fill="#000" fill-opacity="0.97" filter="url(#b05)"/>
<rect x="434.50" y="317.40" width="12.70" height="1.40" rx="0.70" fill="#000" fill-opacity="0.06" filter="url(#b05)"/>
<rect x="451.70" y="317.40" width="13.50" height="1.40" rx="0.70" fill="#000" fill-opacity="0.06" filter="url(#b05)"/>
<rect x="469.30" y="317.40" width="13.50" height="1.40" rx="0.70" fill="#000" fill-opacity="0.06" filter="url(#b05)"/>
<rect x="486.20" y="317.20" width="12.80" height="1.80" rx="0.90" fill="#000" fill-opacity="0.25" filter="url(#b05)"/>
<rect x="435.00" y="322.00" width="12.00" height="7.50" rx="1.60" fill="#000" fill-opacity="0.08" filter="url(#b2)"/>
<rect x="469.00" y="322.00" width="14.00" height="7.50" rx="1.60" fill="#000" fill-opacity="0.08" filter="url(#b2)"/>
<rect x="486.50" y="321.00" width="12.50" height="8.50" rx="1.60" fill="#000" fill-opacity="0.14" filter="url(#b2)"/>
<rect x="486.50" y="334.00" width="12.50" height="5.00" rx="1.60" fill="#000" fill-opacity="0.08" filter="url(#b2)"/>
<rect x="435.00" y="330.00" width="12.00" height="3.70" rx="1.60" fill="#000" fill-opacity="0.55" filter="url(#b05)"/>
<rect x="452.00" y="331.00" width="12.50" height="2.00" rx="1.00" fill="#000" fill-opacity="0.22" filter="url(#b05)"/>
<rect x="469.00" y="330.00" width="14.00" height="3.70" rx="1.60" fill="#000" fill-opacity="0.42" filter="url(#b05)"/>
<rect x="486.50" y="329.50" width="12.50" height="4.50" rx="1.60" fill="#000" fill-opacity="0.75" filter="url(#b05)"/>
<rect x="431.8" y="296.3" width="73.3" height="45.0" fill="none" stroke="#1a1a1a" stroke-width="1.1"/>
<text x="441.3" y="348.8" font-size="6.5" text-anchor="middle" fill="#222" stroke="#222" stroke-width="0.15" >1</text>
<text x="456.6" y="348.8" font-size="6.5" text-anchor="middle" fill="#222" stroke="#222" stroke-width="0.15" >0.53</text>
<text x="475.2" y="348.8" font-size="6.5" text-anchor="middle" fill="#222" stroke="#222" stroke-width="0.15" >0.74</text>
<text x="492.3" y="348.8" font-size="6.5" text-anchor="middle" fill="#222" stroke="#222" stroke-width="0.15" >0.85</text>
<rect x="432.2" y="353.5" width="71.2" height="14.8" fill="#e8e8e8"/>
<rect x="434.40" y="359.10" width="13.10" height="2.70" rx="1.35" fill="#000" fill-opacity="0.62" filter="url(#b05)"/>
<rect x="450.60" y="359.10" width="13.80" height="2.70" rx="1.35" fill="#000" fill-opacity="0.64" filter="url(#b05)"/>
<rect x="467.50" y="359.00" width="15.00" height="2.90" rx="1.45" fill="#000" fill-opacity="0.78" filter="url(#b05)"/>
<rect x="485.60" y="358.30" width="10.70" height="3.70" rx="1.60" fill="#000" fill-opacity="0.93" filter="url(#b05)"/>
<rect x="431.9" y="353.3" width="71.9" height="15.2" fill="none" stroke="#1a1a1a" stroke-width="1.1"/>
</svg></body></html>
